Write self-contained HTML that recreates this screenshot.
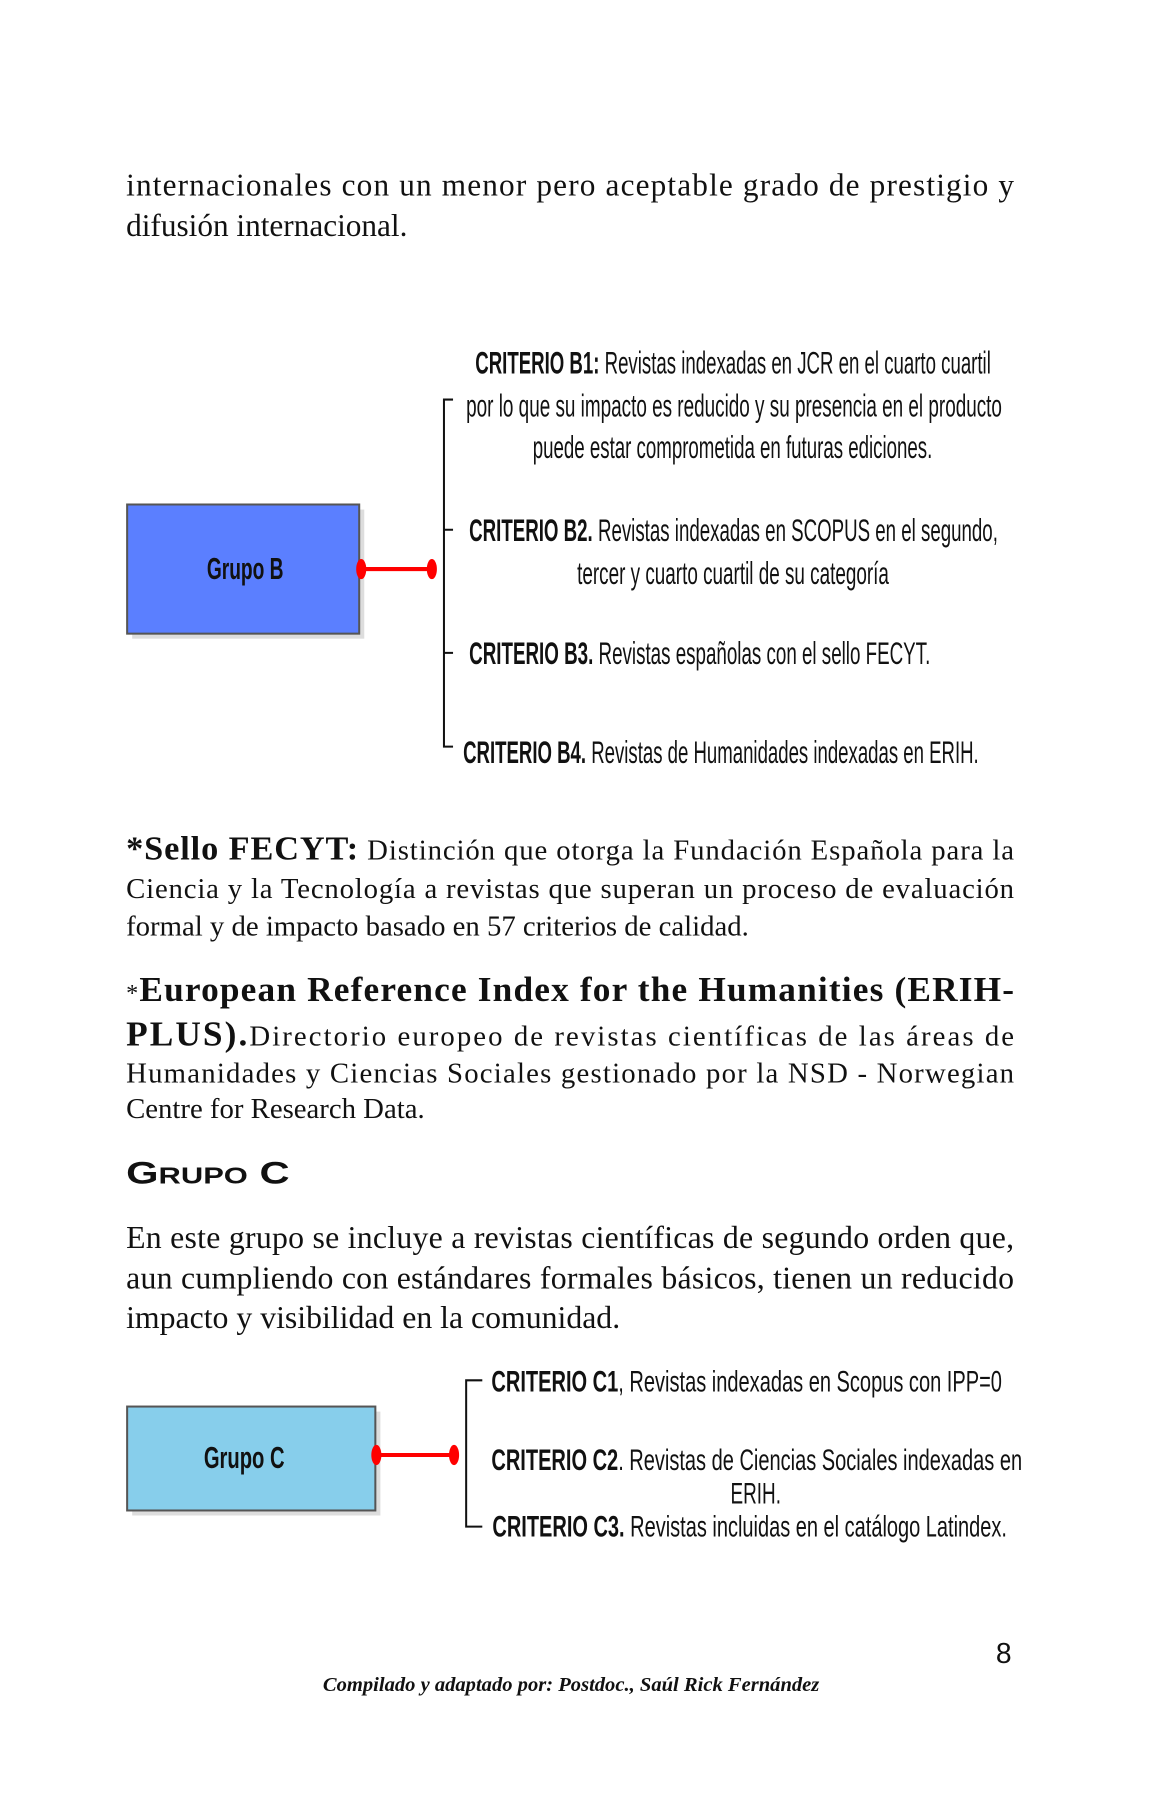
<!DOCTYPE html>
<html><head><meta charset="utf-8"><style>
html,body{margin:0;padding:0;background:#fff;width:1164px;height:1800px;overflow:hidden}
svg{display:block}
.s{font-family:"Liberation Serif",serif;fill:#111}
.n{font-family:"Liberation Sans Narrow","Liberation Sans",sans-serif;fill:#111}
</style></head><body>
<svg width="1164" height="1800" viewBox="0 0 1164 1800" xmlns="http://www.w3.org/2000/svg">
<g transform="scale(1.009)">
<!-- intro paragraph -->
<text class="s" x="125" y="194" font-size="31" textLength="880" lengthAdjust="spacing">internacionales con un menor pero aceptable grado de prestigio y</text>
<text class="s" x="125" y="234" font-size="31">difusión internacional.</text>

<!-- Grupo B diagram -->
<rect x="131" y="505" width="230" height="128" fill="#ddd"/>
<rect x="126" y="500" width="230" height="128" fill="#5b7fff" stroke="#555" stroke-width="2"/>
<text class="n" x="243" y="574" font-size="30" font-weight="bold" text-anchor="middle" textLength="76" lengthAdjust="spacingAndGlyphs">Grupo B</text>
<line x1="358" y1="564" x2="428" y2="564" stroke="#f00" stroke-width="4"/>
<ellipse cx="358" cy="564" rx="5" ry="10" fill="#f00"/>
<ellipse cx="428" cy="564" rx="5" ry="10" fill="#f00"/>
<path d="M449 396 H440 V740 H449 M440 525 H449 M440 647 H449" fill="none" stroke="#111" stroke-width="2"/>
<text class="n" x="471" y="370" font-size="31" textLength="511" lengthAdjust="spacingAndGlyphs"><tspan font-weight="bold">CRITERIO B1:</tspan> Revistas indexadas en JCR en el cuarto cuartil</text>
<text class="n" x="462" y="413" font-size="31" textLength="531" lengthAdjust="spacingAndGlyphs">por lo que su impacto es reducido y su presencia en el producto</text>
<text class="n" x="528" y="454" font-size="31" textLength="396" lengthAdjust="spacingAndGlyphs">puede estar comprometida en futuras ediciones.</text>
<text class="n" x="465" y="536" font-size="31" textLength="524" lengthAdjust="spacingAndGlyphs"><tspan font-weight="bold">CRITERIO B2.</tspan> Revistas indexadas en SCOPUS en el segundo,</text>
<text class="n" x="572" y="579" font-size="31" textLength="309" lengthAdjust="spacingAndGlyphs">tercer y cuarto cuartil de su categoría</text>
<text class="n" x="465" y="658" font-size="31" textLength="457" lengthAdjust="spacingAndGlyphs"><tspan font-weight="bold">CRITERIO B3.</tspan> Revistas españolas con el sello FECYT.</text>
<text class="n" x="459" y="756" font-size="31" textLength="511" lengthAdjust="spacingAndGlyphs"><tspan font-weight="bold">CRITERIO B4.</tspan> Revistas de Humanidades indexadas en ERIH.</text>

<!-- Sello FECYT -->
<text class="s" x="125" y="852" font-size="28.5" textLength="880" lengthAdjust="spacing"><tspan font-weight="bold" font-size="34">*Sello FECYT:</tspan> Distinción que otorga la Fundación Española para la</text>
<text class="s" x="125" y="890" font-size="28.5" textLength="880" lengthAdjust="spacing">Ciencia y la Tecnología a revistas que superan un proceso de evaluación</text>
<text class="s" x="125" y="927" font-size="28.5">formal y de impacto basado en 57 criterios de calidad.</text>

<!-- ERIH -->
<text class="s" x="125" y="992" font-size="35" font-weight="bold" textLength="880" lengthAdjust="spacing"><tspan font-weight="normal" font-size="24">*</tspan>European Reference Index for the Humanities (ERIH-</text>
<text class="s" x="125" y="1036" font-size="28.5" textLength="880" lengthAdjust="spacing"><tspan font-weight="bold" font-size="35">PLUS).</tspan>Directorio europeo de revistas científicas de las áreas de</text>
<text class="s" x="125" y="1073" font-size="28.5" textLength="880" lengthAdjust="spacing">Humanidades y Ciencias Sociales gestionado por la NSD - Norwegian</text>
<text class="s" x="125" y="1108" font-size="28.5">Centre for Research Data.</text>

<!-- GRUPO C -->
<text x="125" y="1173" font-family="Liberation Sans,sans-serif" font-weight="bold" fill="#111" font-size="31" textLength="162" lengthAdjust="spacingAndGlyphs">G<tspan font-size="23">RUPO</tspan> C</text>

<text class="s" x="125" y="1237" font-size="31.5" textLength="880" lengthAdjust="spacing">En este grupo se incluye a revistas científicas de segundo orden que,</text>
<text class="s" x="125" y="1277" font-size="31.5" textLength="880" lengthAdjust="spacing">aun cumpliendo con estándares formales básicos, tienen un reducido</text>
<text class="s" x="125" y="1316" font-size="31.5">impacto y visibilidad en la comunidad.</text>

<!-- Grupo C diagram -->
<rect x="131" y="1399" width="246" height="103" fill="#ddd"/>
<rect x="126" y="1394" width="246" height="103" fill="#87ceeb" stroke="#555" stroke-width="2"/>
<text class="n" x="242" y="1455" font-size="30" font-weight="bold" text-anchor="middle" textLength="80" lengthAdjust="spacingAndGlyphs">Grupo C</text>
<line x1="373" y1="1442" x2="450" y2="1442" stroke="#f00" stroke-width="4"/>
<ellipse cx="373" cy="1442" rx="5" ry="10" fill="#f00"/>
<ellipse cx="450" cy="1442" rx="5" ry="10" fill="#f00"/>
<path d="M478 1368 H462 V1513 H478" fill="none" stroke="#111" stroke-width="2"/>
<text class="n" x="487" y="1379" font-size="29" textLength="506" lengthAdjust="spacingAndGlyphs"><tspan font-weight="bold">CRITERIO C1</tspan>, Revistas indexadas en Scopus con IPP=0</text>
<text class="n" x="487" y="1457" font-size="29" textLength="526" lengthAdjust="spacingAndGlyphs"><tspan font-weight="bold">CRITERIO C2</tspan>. Revistas de Ciencias Sociales indexadas en</text>
<text class="n" x="724" y="1490" font-size="29" textLength="50" lengthAdjust="spacingAndGlyphs">ERIH.</text>
<text class="n" x="488" y="1523" font-size="29" textLength="510" lengthAdjust="spacingAndGlyphs"><tspan font-weight="bold">CRITERIO C3.</tspan> Revistas incluidas en el catálogo Latindex.</text>

<!-- footer -->
<text x="987" y="1648" font-family="Liberation Sans,sans-serif" font-size="28" fill="#111">8</text>
<text class="s" x="320" y="1676" font-size="20" font-style="italic" font-weight="bold" textLength="492" lengthAdjust="spacingAndGlyphs">Compilado y adaptado por: Postdoc., Saúl Rick Fernández</text>
</g>
</svg>
</body></html>
